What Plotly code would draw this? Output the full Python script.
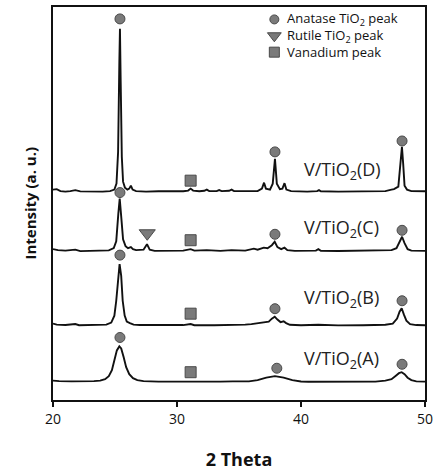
import plotly.graph_objects as go

# ---------------- data ----------------
# 2-theta / relative intensity (a.u.) for each sample, plus vertical stacking offsets
tt_A = [20.0, 20.5, 21.5, 22.5, 23.3, 23.8, 24.2, 24.5, 24.75, 24.95, 25.15, 25.35, 25.5, 25.7, 25.9,
        26.15, 26.45, 26.8, 27.3, 28.5, 30.0, 31.1, 32.0, 33.5, 34.5, 35.2, 35.8, 36.5, 37.2, 37.9,
        38.6, 39.3, 40.0, 40.6, 42.0, 44.0, 46.0, 46.8, 47.3, 47.65, 47.9, 48.12, 48.35, 48.6, 48.9,
        49.3, 50.0]
I_A = [1.5, 1.0, 0.8, 0.5, 1.0, 1.5, 3.0, 6.0, 12.0, 22.0, 32.0, 36.0, 34.0, 25.0, 15.0,
       8.0, 4.0, 2.0, 1.0, 0.5, 0.3, 0.8, 0.3, 0.5, 0.8, 0.6, 0.8, 2.0, 4.5, 6.0,
       4.5, 2.0, 0.7, 0.4, 0.3, 0.3, 0.5, 1.5, 3.0, 6.5, 9.0, 10.0, 8.0, 4.5, 2.0,
       0.8, 0.5]

tt_B = [20.0, 20.3, 21.0, 21.8, 22.1, 23.5, 24.3, 24.7, 24.95, 25.1, 25.25, 25.37, 25.5, 25.62, 25.78,
        25.95, 26.2, 26.5, 27.0, 28.5, 30.5, 31.1, 31.4, 33.0, 34.5, 35.5, 36.0, 36.55, 37.0, 37.4,
        37.65, 37.88, 38.1, 38.35, 38.6, 38.8, 39.1, 40.0, 41.4, 43.0, 45.0, 46.8, 47.4, 47.75, 47.95,
        48.12, 48.3, 48.5, 48.8, 49.3, 50.0]
I_B = [2.0, 1.0, 0.5, 1.5, 0.3, 0.3, 1.0, 3.0, 10.0, 25.0, 50.0, 62.0, 50.0, 25.0, 10.0,
       4.0, 2.5, 1.0, 0.5, 0.3, 0.5, 1.5, 0.3, 0.3, 0.5, 1.0, 1.5, 2.7, 3.0, 4.0,
       7.0, 9.0, 6.0, 3.5, 4.3, 2.5, 0.8, 0.3, 0.8, 0.2, 0.3, 0.8, 2.0, 7.0, 14.0,
       17.5, 11.0, 5.0, 1.5, 0.5, 0.3]

tt_C = [20.0, 20.4, 21.0, 21.8, 22.2, 23.5, 24.5, 24.9, 25.1, 25.27, 25.38, 25.5, 25.65, 25.85, 26.05,
        26.28, 26.45, 26.7, 27.3, 27.58, 27.8, 28.2, 29.5, 30.5, 31.1, 31.4, 32.4, 33.5, 34.4, 35.5,
        36.2, 36.5, 37.0, 37.3, 37.65, 37.88, 38.1, 38.4, 38.67, 38.9, 39.5, 41.2, 41.4, 41.6, 43.0,
        45.6, 46.5, 47.3, 47.7, 47.97, 48.15, 48.35, 48.6, 48.9, 50.0]
I_C = [2.0, 1.0, 0.5, 1.5, 0.0, 0.3, 0.8, 3.0, 10.0, 38.0, 53.0, 35.0, 12.0, 5.0, 3.0,
       4.0, 2.0, 1.0, 1.5, 7.0, 1.5, 0.3, 0.3, 0.5, 2.0, 0.5, 1.0, 0.3, 1.0, 0.5,
       2.5, 1.5, 3.5, 3.0, 6.0, 9.5, 4.0, 2.0, 3.5, 1.0, 0.3, 0.5, 2.0, 0.3, 0.2,
       0.5, 0.3, 1.0, 3.0, 10.0, 14.5, 8.0, 2.0, 0.5, 0.3]

tt_D = [20.0, 20.3, 20.6, 21.0, 21.4, 21.8, 22.2, 23.0, 24.0, 24.6, 24.95, 25.12, 25.25, 25.35, 25.4,
        25.46, 25.55, 25.65, 25.8, 26.0, 26.15, 26.28, 26.42, 26.7, 27.5, 28.5, 29.5, 30.5, 30.9, 31.1,
        31.3, 31.8, 32.2, 32.4, 32.6, 33.2, 33.4, 33.6, 34.2, 34.4, 34.6, 35.5, 36.5, 36.85, 37.02,
        37.17, 37.5, 37.72, 37.9, 38.05, 38.3, 38.5, 38.67, 38.82, 39.2, 40.5, 41.3, 41.45, 41.6, 43.0,
        44.5, 45.6, 45.8, 46.8, 47.3, 47.5, 47.85, 48.02, 48.14, 48.24, 48.35, 48.55, 48.9, 50.0]
I_D = [2.0, 2.5, 0.5, 0.0, 0.5, 1.5, 0.2, 0.0, 0.0, 0.5, 2.0, 8.0, 40.0, 130.0, 164.0,
       110.0, 35.0, 10.0, 4.0, 2.0, 3.0, 6.0, 2.0, 0.5, 0.0, 0.3, 0.0, 0.3, 1.0, 3.0,
       1.0, 0.3, 0.8, 2.0, 0.5, 0.5, 1.5, 0.5, 0.8, 2.0, 0.5, 0.3, 0.5, 3.0, 9.0,
       3.0, 2.0, 8.0, 33.0, 8.0, 2.5, 3.0, 8.5, 2.0, 0.5, 0.0, 0.5, 1.5, 0.3, 0.0,
       0.3, 1.0, 0.3, 0.5, 2.0, 2.5, 5.0, 28.0, 45.0, 28.0, 6.0, 2.0, 0.5, 0.3]

samples = ["A", "B", "C", "D"]
offsets = [18, 75, 150, 210]
sample_labels = ["V/TiO<sub>2</sub>(A)", "V/TiO<sub>2</sub>(B)", "V/TiO<sub>2</sub>(C)", "V/TiO<sub>2</sub>(D)"]
label_tt = [40.1, 40.1, 40.1, 40.1]
label_y = [41, 102, 173, 231]

# peak markers (2-theta, stacked intensity)
anatase_tt = [25.4, 38.05, 48.15, 25.4, 37.9, 48.15, 25.4, 37.9, 48.15, 25.4, 37.9, 48.15]
anatase_y = [63, 32, 36, 146, 92, 100, 209, 167, 171, 384, 250, 261]
rutile_tt = [27.6]
rutile_y = [168]
vanadium_tt = [31.1, 31.1, 31.1, 31.1]
vanadium_y = [28, 87, 161, 221]

legend_names = ["Anatase TiO<sub>2</sub> peak", "Rutile TiO<sub>2</sub> peak", "Vanadium peak"]
legend_symbols = ["circle", "triangle-down", "square"]
legend_sizes = [9, 12, 10]

x_ticks = [20, 30, 40, 50]

# ---------------- figure ----------------
FONT = "Open Sans"
MK = "#7a7a7a"
MKL = "#4a4a4a"

fig = go.Figure()
series = {"A": (tt_A, I_A), "B": (tt_B, I_B), "C": (tt_C, I_C), "D": (tt_D, I_D)}
for s, off in zip(samples, offsets):
    tt, inten = series[s]
    fig.add_trace(go.Scatter(x=tt, y=[v + off for v in inten], mode="lines",
                             line=dict(color="#111111", width=1.9), showlegend=False,
                             hoverinfo="skip"))

fig.add_trace(go.Scatter(x=anatase_tt, y=anatase_y, mode="markers", showlegend=False,
                         marker=dict(symbol="circle", size=10, color=MK, line=dict(color=MKL, width=1))))
fig.add_trace(go.Scatter(x=rutile_tt, y=rutile_y, mode="markers", showlegend=False,
                         marker=dict(symbol="triangle-down", size=14, color=MK, line=dict(color=MKL, width=1))))
fig.add_trace(go.Scatter(x=vanadium_tt, y=vanadium_y, mode="markers", showlegend=False,
                         marker=dict(symbol="square", size=11, color=MK, line=dict(color=MKL, width=1))))

# custom legend (top right, no frame)
leg_x = 37.85
leg_text_x = 38.7
leg_y = [383.5, 367, 350.5]
for name, sym, sz, yy in zip(legend_names, legend_symbols, legend_sizes, leg_y):
    fig.add_trace(go.Scatter(x=[leg_x], y=[yy], mode="markers", showlegend=False,
                             marker=dict(symbol=sym, size=sz, color=MK, line=dict(color=MKL, width=1))))
    fig.add_annotation(x=leg_text_x, y=yy, text=name, showarrow=False, xanchor="left",
                       yanchor="middle", font=dict(family=FONT, size=13, color="#111111"))

for lab, lx, ly in zip(sample_labels, label_tt, label_y):
    fig.add_annotation(x=lx, y=ly, text=lab, showarrow=False, xanchor="left", yanchor="middle",
                       font=dict(family=FONT, size=18, color="#222222"))

fig.add_annotation(x=0, y=0.5, xref="paper", yref="paper", xshift=-36, text="<b>Intensity (a. u.)</b>",
                   textangle=-90, showarrow=False, font=dict(family=FONT, size=15, color="#111111"))

fig.update_layout(
    width=438, height=472,
    margin=dict(l=53, r=10, t=5, b=71),
    paper_bgcolor="white", plot_bgcolor="white",
    xaxis=dict(range=[20, 50], tickvals=x_ticks, ticks="outside", ticklen=5, tickwidth=1.5,
               tickcolor="#111111", showline=True, linecolor="#111111", linewidth=1.8, mirror=True,
               showgrid=False, zeroline=False,
               tickfont=dict(family=FONT, size=14, color="#111111"),
               title=dict(text="<b>2 Theta</b>", font=dict(family=FONT, size=18, color="#111111"),
                          standoff=27)),
    yaxis=dict(range=[0, 396], showticklabels=False, ticks="", showline=True, linecolor="#111111",
               linewidth=1.8, mirror=True, showgrid=False, zeroline=False),
)

fig.write_html("out.html")
